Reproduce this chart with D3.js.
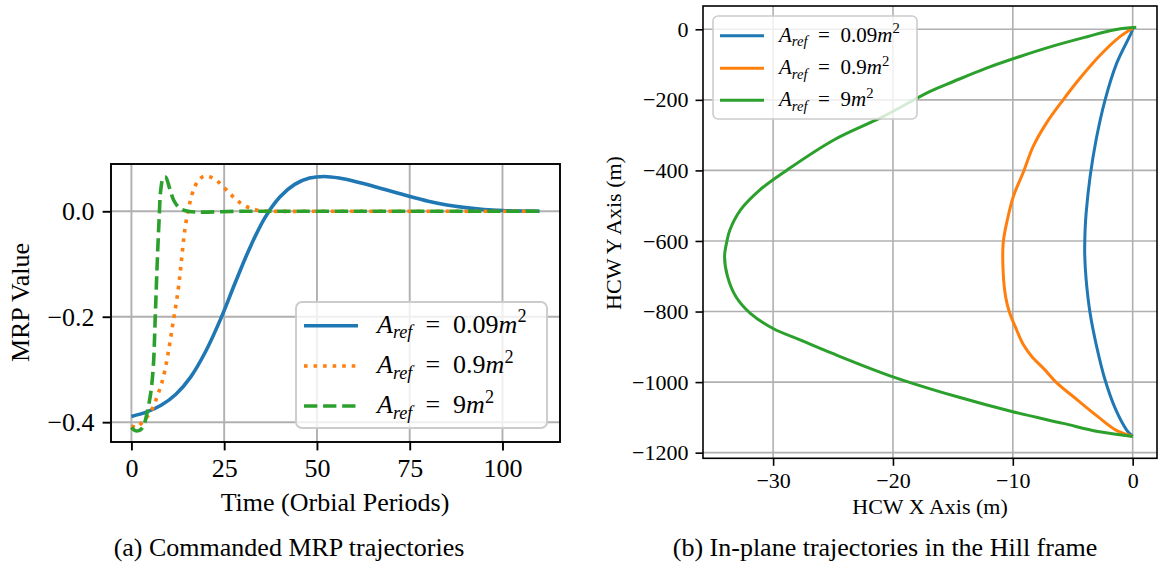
<!DOCTYPE html>
<html>
<head>
<meta charset="utf-8">
<script src="https://cdn.jsdelivr.net/npm/d3@7"></script>
<style>
body { margin: 0; background: #fff; }
text { font-family: "Liberation Serif", "Times New Roman", serif; fill: #000; white-space: pre; }
</style>
</head>
<body>
<svg id="fig" width="1158" height="565"></svg>
<script>
const W = 1158, H = 565;

// ---- (a) commanded MRP trajectories ----
const tBlue   = [0, 4, 8, 12, 16, 20, 24, 28, 32, 36, 40, 44, 48, 52, 56, 60, 65, 70, 75, 80, 85, 90, 95, 100, 105, 110];
const mrpBlue = [-0.389, -0.381, -0.368, -0.347, -0.314, -0.266, -0.205, -0.135, -0.068, -0.012, 0.027, 0.051, 0.063, 0.066, 0.063, 0.057, 0.048, 0.038, 0.028, 0.019, 0.012, 0.007, 0.0035, 0.0015, 0.0005, 0.0];

const tOrange   = [0, 1.5, 3, 5, 6.1, 7, 7.9, 8.6, 9.9, 11.2, 12.6, 13.5, 14.4, 15.7, 17.1, 18.5, 19.8, 21.3, 22.9, 24.7, 26.5, 28.3, 30.1, 32, 33.7, 36, 38, 50, 70, 90, 110];
const mrpOrange = [-0.407, -0.410, -0.399, -0.383, -0.367, -0.350, -0.332, -0.315, -0.269, -0.212, -0.149, -0.092, -0.035, 0.015, 0.047, 0.062, 0.067, 0.065, 0.059, 0.047, 0.034, 0.022, 0.012, 0.006, 0.0025, 0.0005, 0, 0, 0, 0, 0];

const tGreen   = [0, 1, 2, 2.8, 3.4, 4.2, 5.2, 5.9, 6.4, 6.75, 7.1, 7.5, 7.9, 8.6, 9.2, 10.3, 11.4, 13, 15.3, 30, 60, 90, 110];
const mrpGreen = [-0.410, -0.416, -0.416, -0.412, -0.405, -0.383, -0.345, -0.295, -0.205, -0.137, -0.073, -0.010, 0.040, 0.064, 0.065, 0.0436, 0.021, 0.006, 0, 0, 0, 0, 0];

// ---- (b) in-plane trajectories, HCW frame ----
const hxBlue = [0, -0.5, -1.4, -2.3, -3.0, -3.55, -3.88, -4.0, -3.97, -3.88, -3.55, -3.05, -2.3, -1.33, -0.08, 0];
const hyBlue = [-1154, -1136, -1079, -994, -900, -805, -710, -640, -570, -520, -417, -313, -200, -96, -7, 3];

const hxOrange = [0, -1.4, -2.9, -4.6, -6.4, -7.3, -8.4, -9.1, -9.8, -10.3, -10.6, -10.8, -10.8, -10.45, -9.95, -9.1, -8.3, -7.2, -5.8, -4.4, -2.7, -1.06, 0];
const hyOrange = [-1154, -1136, -1098, -1051, -1000, -966, -928, -895, -843, -800, -758, -692, -605, -539, -473, -403, -332, -266, -200, -139, -73, -21, 3];

const hxGreen = [0, -2.9, -5.8, -10, -14.7, -20, -25.1, -27.7, -30, -31.9, -33.1, -33.8, -34.05, -33.85, -33.6, -32.7, -31.1, -28.8, -24.9, -20.8, -16.9, -14.95, -12.2, -9.4, -6.6, -3.8, -1.6, 0, 0.3];
const hyGreen = [-1154, -1140, -1117, -1084, -1041, -985, -918, -881, -848, -805, -758, -701, -644, -600, -568, -511, -455, -398, -313, -247, -176, -148, -110, -77, -47, -21, -2, 5, 6];

const areaLabels = ['0.09', '0.9', '9'];
const colors = ['#1f77b4', '#ff7f0e', '#2ca02c'];

const timeTicks = [0, 25, 50, 75, 100];
const mrpTicks = [-0.4, -0.2, 0.0];
const hcwXTicks = [-30, -20, -10, 0];
const hcwYTicks = [0, -200, -400, -600, -800, -1000, -1200];

const minus = s => s.replace('-', '\u2212');
const zip = (a, b) => a.map((v, i) => [v, b[i]]);

const svg = d3.select('#fig');
svg.append('rect').attr('width', W).attr('height', H).attr('fill', '#fff');

function legendText(sel, value, fs) {
    sel.append('tspan').attr('font-style', 'italic').text('A');
    sel.append('tspan').attr('font-style', 'italic').attr('font-size', fs * 0.7).attr('dy', fs * 0.22).text('ref');
    sel.append('tspan').attr('dy', -fs * 0.22).text('\u2002=\u2002' + value);
    sel.append('tspan').attr('font-style', 'italic').text('m');
    sel.append('tspan').attr('font-size', fs * 0.7).attr('dy', -fs * 0.4).text('2');
}

function panel(p) {
    const g = svg.append('g');
    const x = d3.scaleLinear().domain(p.xDomain).range([p.left, p.right]);
    const y = d3.scaleLinear().domain(p.yDomain).range([p.bottom, p.top]);

    // grid
    g.append('g').selectAll('line').data(p.xTicks).join('line')
        .attr('x1', d => x(d)).attr('x2', d => x(d))
        .attr('y1', p.top).attr('y2', p.bottom)
        .attr('stroke', '#b0b0b0').attr('stroke-width', p.gridW);
    g.append('g').selectAll('line').data(p.yTicks).join('line')
        .attr('y1', d => y(d)).attr('y2', d => y(d))
        .attr('x1', p.left).attr('x2', p.right)
        .attr('stroke', '#b0b0b0').attr('stroke-width', p.gridW);

    // lines
    const line = d3.line().x(d => x(d[0])).y(d => y(d[1])).curve(d3.curveCatmullRom.alpha(0.5));
    p.series.forEach((s, i) => {
        g.append('path').datum(s.pts)
            .attr('d', line)
            .attr('fill', 'none')
            .attr('stroke', colors[i])
            .attr('stroke-width', p.lineW)
            .attr('stroke-dasharray', s.dash || null)
            .attr('stroke-linecap', 'butt')
            .attr('stroke-linejoin', 'round');
    });

    // axes
    const xAxis = g.append('g').attr('transform', `translate(0,${p.bottom})`)
        .call(d3.axisBottom(x).tickValues(p.xTicks).tickFormat(p.xFormat)
            .tickSize(p.tickLen).tickPadding(p.xPad).tickSizeOuter(0));
    const yAxis = g.append('g').attr('transform', `translate(${p.left},0)`)
        .call(d3.axisLeft(y).tickValues(p.yTicks).tickFormat(p.yFormat)
            .tickSize(p.tickLen).tickPadding(p.yPad).tickSizeOuter(0));
    [xAxis, yAxis].forEach(a => {
        a.select('.domain').remove();
        a.selectAll('.tick line').attr('stroke', '#000').attr('stroke-width', p.spineW);
        a.selectAll('.tick text').attr('font-family', '"Liberation Serif", serif')
            .attr('font-size', p.fs).attr('fill', '#000');
    });

    g.append('rect')
        .attr('x', p.left).attr('y', p.top)
        .attr('width', p.right - p.left).attr('height', p.bottom - p.top)
        .attr('fill', 'none').attr('stroke', '#000').attr('stroke-width', p.spineW);

    // axis labels
    g.append('text').attr('x', p.xLabelPos[0]).attr('y', p.xLabelPos[1])
        .attr('text-anchor', 'middle').attr('font-size', p.fs).text(p.xLabel);
    g.append('text')
        .attr('transform', `translate(${p.yLabelPos[0]},${p.yLabelPos[1]}) rotate(-90)`)
        .attr('text-anchor', 'middle').attr('dominant-baseline', 'central')
        .attr('font-size', p.fs).text(p.yLabel);

    // legend
    const L = p.legend;
    const lg = g.append('g');
    lg.append('rect').attr('x', L.x).attr('y', L.y).attr('width', L.w).attr('height', L.h)
        .attr('rx', L.r).attr('fill', '#fff').attr('fill-opacity', 0.8)
        .attr('stroke', '#cccccc').attr('stroke-width', p.spineW);
    p.series.forEach((s, i) => {
        const cy = L.rows[i];
        lg.append('line').attr('x1', L.lx0).attr('x2', L.lx1).attr('y1', cy).attr('y2', cy)
            .attr('stroke', colors[i]).attr('stroke-width', p.lineW)
            .attr('stroke-dasharray', s.dash || null);
        lg.append('text').attr('x', L.tx).attr('y', cy + L.base)
            .attr('font-size', L.fs)
            .call(legendText, areaLabels[i], L.fs);
    });

    // caption
    svg.append('text').attr('x', p.caption[1]).attr('y', p.caption[2])
        .attr('text-anchor', 'middle').attr('font-size', 26).text(p.caption[0]);
}

const lwA = 3.6;
panel({
    left: 111, right: 560, top: 164, bottom: 442,
    xDomain: [-5.5, 115.5], yDomain: [-0.4376, 0.0897],
    xTicks: timeTicks, yTicks: mrpTicks,
    xFormat: d => String(d), yFormat: d => minus(d3.format('.1f')(d)),
    fs: 26, tickLen: 8.4, xPad: 8, yPad: 8, gridW: 1.9, spineW: 1.9, lineW: lwA,
    series: [
        { pts: zip(tBlue, mrpBlue) },
        { pts: zip(tOrange, mrpOrange), dash: `${lwA} ${lwA * 1.65}` },
        { pts: zip(tGreen, mrpGreen), dash: `${lwA * 3.7} ${lwA * 1.6}` }
    ],
    xLabel: 'Time (Orbial Periods)', xLabelPos: [335, 511],
    yLabel: 'MRP Value', yLabelPos: [20, 302.5],
    legend: { x: 296, y: 302, w: 251, h: 126, r: 6, rows: [325.7, 366, 406],
              lx0: 304, lx1: 358, tx: 377, base: 7, fs: 26 },
    caption: ['(a) Commanded MRP trajectories', 289, 556]
});

panel({
    left: 703, right: 1157, top: 6, bottom: 458.3,
    xDomain: [-35.85, 2.03], yDomain: [-1216, 66],
    xTicks: hcwXTicks, yTicks: hcwYTicks,
    xFormat: d => minus(String(d)), yFormat: d => minus(String(d)),
    fs: 22, tickLen: 7.5, xPad: 6.5, yPad: 7, gridW: 1.6, spineW: 1.6, lineW: 3,
    series: [
        { pts: zip(hxBlue, hyBlue) },
        { pts: zip(hxOrange, hyOrange) },
        { pts: zip(hxGreen, hyGreen) }
    ],
    xLabel: 'HCW X Axis (m)', xLabelPos: [930, 514],
    yLabel: 'HCW Y Axis (m)', yLabelPos: [613, 233],
    legend: { x: 713, y: 16, w: 204, h: 103, r: 5, rows: [35.7, 68.3, 100.3],
              lx0: 720, lx1: 764, tx: 779, base: 6, fs: 21 },
    caption: ['(b) In-plane trajectories in the Hill frame', 885, 556]
});
</script>
</body>
</html>
